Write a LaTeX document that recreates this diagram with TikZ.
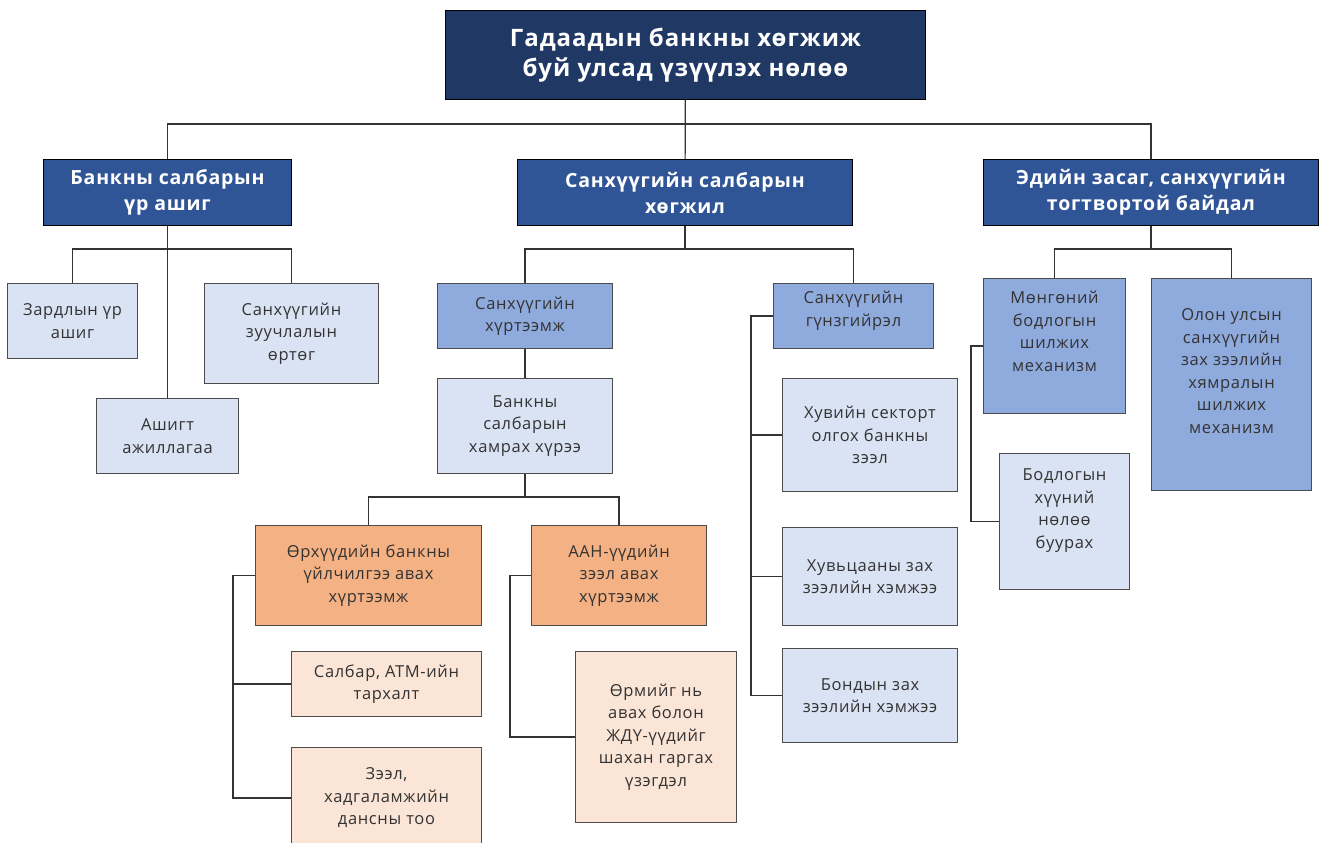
\documentclass[tikz,border=0pt]{standalone}
\usepackage{fontspec}
\setmainfont[LetterSpace=4]{Open Sans}

\definecolor{navy}{HTML}{203864}
\definecolor{royal}{HTML}{2F5597}
\definecolor{midblue}{HTML}{8FAADC}
\definecolor{paleblue}{HTML}{DAE3F3}
\definecolor{peach}{HTML}{F4B183}
\definecolor{palepeach}{HTML}{FBE5D6}

\newcommand\toptext[1]{\begin{tabular}[t]{@{}c@{}}#1\end{tabular}}

\begin{document}
\begin{tikzpicture}[x=1pt, y=-1pt,
  conn/.style={draw=black!80, line width=1.2pt},
  wh/.style 2 args={minimum width=#1pt, minimum height=#2pt},
  box/.style={draw=black!70, line width=1pt, anchor=north west, align=center,
    inner sep=0pt, text=black!80, font=\fontsize{16.5}{22.5}\selectfont},
  rootbox/.style={box, draw=black, fill=navy, text=white, font=\bfseries\fontsize{24}{30}\selectfont},
  headbox/.style={box, draw=black, fill=royal, text=white, font=\bfseries\fontsize{19.5}{26}\selectfont},
  midbox/.style={box, fill=midblue},
  palebox/.style={box, fill=paleblue},
  peachbox/.style={box, fill=peach},
  creambox/.style={box, fill=palepeach}]
\useasboundingbox (0,0) rectangle (1320,843);
\clip (0,0) rectangle (1320,843);

\node[rootbox, wh={480}{89}] (root) at (445,10) {Гадаадын банкны хөгжиж\\буй улсад үзүүлэх нөлөө};

\node[headbox, wh={248}{66}] (bank) at (43,159) {Банкны салбарын\\үр ашиг};
\node[headbox, wh={335}{66}] (sanh) at (517,159) {Санхүүгийн салбарын\\хөгжил};
\node[headbox, wh={335}{66}] (edii) at (983,159) {Эдийн засаг, санхүүгийн\\тогтвортой байдал};

\node[palebox, wh={130}{75}] (zard) at (7,283) {Зардлын үр\\ашиг};
\node[palebox, wh={174}{100}] (zuuch) at (204,283) {Санхүүгийн\\зуучлалын\\өртөг};
\node[palebox, wh={142}{75}] (ashig) at (96,398) {Ашигт\\ажиллагаа};

\node[midbox, wh={175}{65}] (hurt) at (437,283) {Санхүүгийн\\хүртээмж};
\node[midbox, wh={160}{65}, text height=20pt, text depth=45pt] (gunz) at (773,283) {\toptext{Санхүүгийн\\гүнзгийрэл}};
\node[palebox, wh={175}{95}] (hamrah) at (437,378) {Банкны\\салбарын\\хамрах хүрээ};

\node[peachbox, wh={226}{100}] (orh) at (255,525) {Өрхүүдийн банкны\\үйлчилгээ авах\\хүртээмж};
\node[peachbox, wh={175}{100}] (aan) at (531,525) {ААН-үүдийн\\зээл авах\\хүртээмж};
\node[creambox, wh={190}{65}] (salbar) at (291,651) {Салбар, АТМ-ийн\\тархалт};
\node[creambox, wh={190}{101}] (zeel) at (291,747) {Зээл,\\хадгаламжийн\\дансны тоо};
\node[creambox, wh={161}{171}] (ormiig) at (575,651) {Өрмийг нь\\авах болон\\ЖДҮ-үүдийг\\шахан гаргах\\үзэгдэл};

\node[palebox, wh={175}{113}] (huvi) at (782,378) {Хувийн секторт\\олгох банкны\\зээл};
\node[palebox, wh={175}{98}] (huvts) at (782,527) {Хувьцааны зах\\зээлийн хэмжээ};
\node[palebox, wh={175}{94}] (bond) at (782,648) {Бондын зах\\зээлийн хэмжээ};

\node[midbox, wh={142}{135}, text height=25pt, text depth=110pt] (mongo) at (983,278) {\toptext{Мөнгөний\\бодлогын\\шилжих\\механизм}};
\node[midbox, wh={160}{212}, text height=42pt, text depth=170pt] (olon) at (1151,278) {\toptext{Олон улсын\\санхүүгийн\\зах зээлийн\\хямралын\\шилжих\\механизм}};
\node[palebox, wh={130}{136}, text height=27pt, text depth=109pt] (bodl) at (999,453) {\toptext{Бодлогын\\хүүний\\нөлөө\\буурах}};

\draw[conn] (root) -- (sanh);
\draw[conn] (root.south) -- ++(0,24) -| (bank.north);
\draw[conn] (root.south) -- ++(0,24) -| (edii.north);
\draw[conn] (bank) -- (ashig);
\draw[conn] (bank.south) -- ++(0,23) -| (zard.north);
\draw[conn] (bank.south) -- ++(0,23) -| (zuuch.north);
\draw[conn] (sanh.south) -- ++(0,23) -| (hurt.north);
\draw[conn] (sanh.south) -- ++(0,23) -| (gunz.north);
\draw[conn] (hurt) -- (hamrah);
\draw[conn] (hamrah.south) -- ++(0,23) -| (orh.north);
\draw[conn] (hamrah.south) -- ++(0,23) -| (aan.north);
\draw[conn] (orh.west) -- ++(-22,0) |- (salbar.west);
\draw[conn] (orh.west) -- ++(-22,0) |- (zeel.west);
\draw[conn] (aan.west) -- ++(-21,0) |- (ormiig.west);
\draw[conn] (gunz.west) -- ++(-22,0) |- (huvi.west);
\draw[conn] (gunz.west) -- ++(-22,0) |- (huvts.west);
\draw[conn] (gunz.west) -- ++(-22,0) |- (bond.west);
\draw[conn] (edii.south) -- ++(0,23) -| (mongo.north);
\draw[conn] (edii.south) -- ++(0,23) -| (olon.north);
\draw[conn] (mongo.west) -- ++(-12,0) |- (bodl.west);
\end{tikzpicture}
\end{document}
